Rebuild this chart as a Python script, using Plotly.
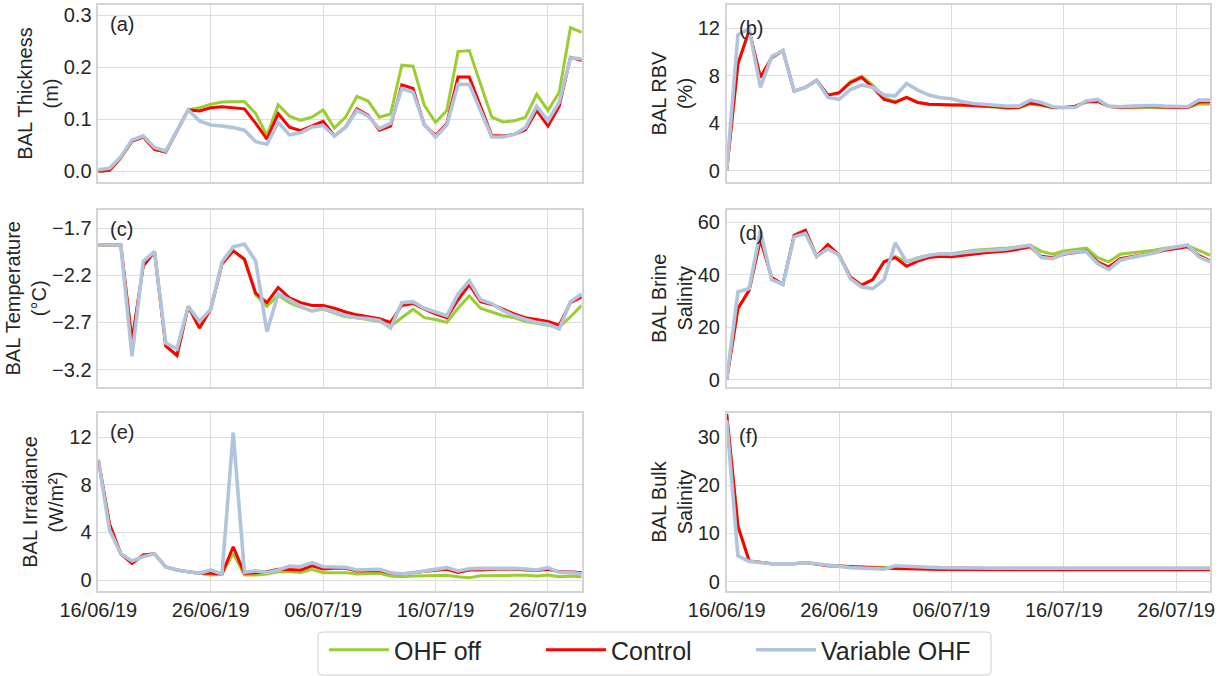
import pandas as pd
import plotly.graph_objects as go

# ---- time axis -------------------------------------------------------------
dates = pd.date_range("2019-06-16", periods=44, freq="D")
x_tick_dates = ["2019-06-16", "2019-06-26", "2019-07-06", "2019-07-16", "2019-07-26"]
x_tick_labels = ["16/06/19", "26/06/19", "06/07/19", "16/07/19", "26/07/19"]
x_range = ["2019-06-16", "2019-07-29"]

# ---- experiments -----------------------------------------------------------
series_names = ["OHF off", "Control", "Variable OHF"]
series_colors = ["#9acd32", "#ff0000", "#b0c4de"]
series_widths = [3, 3, 3.6]

# ---- (a) BAL thickness (m) -------------------------------------------------
thickness_ohf_off = [0.0, 0.002, 0.026, 0.058, 0.066, 0.042, 0.037, 0.079, 0.118, 0.122,
                     0.129, 0.133, 0.134, 0.134, 0.111, 0.069, 0.128, 0.106, 0.098, 0.104,
                     0.118, 0.083, 0.104, 0.144, 0.135, 0.104, 0.110, 0.204, 0.202, 0.127,
                     0.094, 0.117, 0.230, 0.232, 0.168, 0.104, 0.095, 0.097, 0.104, 0.148,
                     0.117, 0.152, 0.276, 0.267]
thickness_control = [0.0, 0.002, 0.026, 0.058, 0.066, 0.042, 0.037, 0.079, 0.118, 0.116,
                     0.122, 0.124, 0.122, 0.120, 0.092, 0.062, 0.111, 0.085, 0.078, 0.087,
                     0.096, 0.068, 0.085, 0.120, 0.108, 0.079, 0.087, 0.166, 0.159, 0.089,
                     0.069, 0.092, 0.181, 0.181, 0.126, 0.069, 0.068, 0.071, 0.080, 0.117,
                     0.087, 0.125, 0.219, 0.213]
thickness_variable = [0.003, 0.006, 0.028, 0.060, 0.068, 0.046, 0.039, 0.080, 0.118, 0.097,
                      0.089, 0.087, 0.084, 0.079, 0.057, 0.052, 0.094, 0.070, 0.074, 0.085,
                      0.088, 0.068, 0.084, 0.117, 0.106, 0.082, 0.092, 0.159, 0.152, 0.090,
                      0.066, 0.089, 0.167, 0.167, 0.117, 0.066, 0.066, 0.071, 0.084, 0.125,
                      0.097, 0.133, 0.218, 0.216]

# ---- (b) BAL relative brine volume (%) --------------------------------------
rbv_ohf_off = [0.0, 9.0, 11.8, 7.85, 9.5, 10.1, 6.7, 7.0, 7.6, 6.36,
               6.6, 7.5, 7.95, 7.2, 6.13, 5.8, 6.16, 5.74, 5.6, 5.55,
               5.52, 5.5, 5.47, 5.42, 5.36, 5.28, 5.3, 5.6, 5.5, 5.3,
               5.3, 5.4, 5.77, 5.9, 5.4, 5.3, 5.36, 5.36, 5.36, 5.3,
               5.3, 5.3, 5.6, 5.62]
rbv_control = [0.0, 9.0, 11.8, 7.85, 9.5, 10.1, 6.7, 7.0, 7.6, 6.36,
               6.55, 7.4, 7.85, 7.0, 6.0, 5.74, 6.16, 5.74, 5.6, 5.55,
               5.52, 5.52, 5.49, 5.43, 5.38, 5.3, 5.32, 5.7, 5.55, 5.32,
               5.32, 5.43, 5.8, 5.83, 5.43, 5.32, 5.38, 5.38, 5.38, 5.32,
               5.32, 5.32, 5.77, 5.8]
rbv_variable = [0.0, 11.45, 11.9, 7.0, 9.6, 10.1, 6.7, 7.0, 7.6, 6.16,
                6.0, 6.83, 7.2, 7.0, 6.36, 6.3, 7.34, 6.78, 6.36, 6.13,
                6.05, 5.8, 5.66, 5.57, 5.49, 5.43, 5.43, 5.94, 5.74, 5.38,
                5.32, 5.32, 5.86, 6.0, 5.43, 5.38, 5.43, 5.49, 5.49, 5.43,
                5.38, 5.38, 5.94, 5.94]

# ---- (c) BAL temperature (degC) ---------------------------------------------
temp_ohf_off = [-1.88, -1.88, -1.88, -2.90, -2.10, -1.95, -2.95, -3.05, -2.53, -2.76,
                -2.56, -2.08, -1.94, -2.03, -2.41, -2.53, -2.41, -2.49, -2.54, -2.575,
                -2.56, -2.60, -2.64, -2.65, -2.67, -2.69, -2.74, -2.65, -2.56, -2.65,
                -2.67, -2.70, -2.55, -2.42, -2.55, -2.59, -2.63, -2.65, -2.69, -2.71,
                -2.73, -2.75, -2.64, -2.52]
temp_control = [-1.88, -1.88, -1.88, -2.90, -2.10, -1.95, -2.95, -3.05, -2.53, -2.76,
                -2.56, -2.08, -1.94, -2.03, -2.39, -2.49, -2.33, -2.44, -2.49, -2.52,
                -2.52, -2.55, -2.59, -2.62, -2.64, -2.66, -2.70, -2.52, -2.50, -2.56,
                -2.61, -2.65, -2.46, -2.30, -2.48, -2.51, -2.56, -2.61, -2.65, -2.67,
                -2.69, -2.73, -2.49, -2.43]
temp_variable = [-1.88, -1.88, -1.88, -3.06, -2.05, -1.95, -2.92, -2.98, -2.53, -2.69,
                 -2.56, -2.06, -1.90, -1.87, -2.05, -2.80, -2.40, -2.46, -2.53, -2.58,
                 -2.55, -2.59, -2.63, -2.65, -2.66, -2.68, -2.76, -2.49, -2.48, -2.55,
                 -2.59, -2.63, -2.40, -2.26, -2.46, -2.50, -2.575, -2.63, -2.67, -2.70,
                 -2.72, -2.77, -2.48, -2.40]

# ---- (d) BAL brine salinity -------------------------------------------------
brine_ohf_off = [0.0, 27.1, 34.1, 53.4, 38.9, 36.3, 55.0, 56.9, 47.0, 51.5,
                 47.4, 39.1, 36.0, 38.1, 44.9, 47.0, 44.9, 46.5, 47.4, 48.0,
                 48.0, 48.7, 49.3, 49.6, 49.8, 50.2, 50.6, 51.3, 48.9, 47.8,
                 49.0, 49.6, 50.1, 46.5, 44.9, 47.8, 48.3, 48.7, 49.3, 50.1,
                 50.6, 51.1, 49.3, 47.4]
brine_control = [0.0, 27.1, 34.1, 53.4, 38.9, 36.3, 55.0, 56.9, 47.0, 51.5,
                 47.4, 39.1, 36.0, 38.1, 44.9, 46.5, 43.2, 45.2, 46.5, 47.0,
                 46.8, 47.4, 48.0, 48.4, 48.7, 49.0, 49.8, 50.6, 47.0, 46.5,
                 47.8, 48.4, 49.0, 44.9, 42.9, 46.1, 46.8, 47.4, 48.3, 49.3,
                 49.9, 50.6, 47.4, 45.2]
brine_variable = [0.0, 33.4, 34.7, 56.7, 38.1, 36.3, 54.4, 55.7, 47.0, 49.9,
                  47.4, 38.5, 35.3, 34.7, 38.1, 52.1, 44.9, 46.1, 47.4, 48.0,
                  47.8, 48.4, 48.9, 49.2, 49.4, 49.8, 50.6, 51.2, 46.5, 46.1,
                  48.0, 48.7, 48.7, 44.2, 41.9, 45.5, 46.5, 47.4, 48.3, 49.8,
                  50.6, 51.3, 46.8, 44.9]

# ---- (e) BAL irradiance (W/m2) ----------------------------------------------
irr_ohf_off = [10.1, 4.7, 2.2, 1.4, 2.1, 2.2, 1.1, 0.84, 0.7, 0.56,
               0.42, 0.5, 2.24, 0.42, 0.42, 0.5, 0.7, 0.7, 0.64, 0.9,
               0.62, 0.62, 0.62, 0.5, 0.5, 0.56, 0.34, 0.28, 0.34, 0.36,
               0.36, 0.39, 0.28, 0.2, 0.36, 0.39, 0.39, 0.39, 0.39, 0.34,
               0.42, 0.28, 0.34, 0.28]
irr_control = [10.1, 4.7, 2.2, 1.4, 2.1, 2.2, 1.1, 0.84, 0.7, 0.56,
               0.56, 0.5, 2.8, 0.56, 0.62, 0.7, 0.9, 0.84, 0.84, 1.2,
               0.93, 0.98, 0.98, 0.76, 0.76, 0.79, 0.56, 0.5, 0.62, 0.7,
               0.79, 0.9, 0.64, 0.84, 0.84, 0.9, 0.93, 0.9, 0.84, 0.79,
               0.9, 0.7, 0.7, 0.62]
irr_variable = [10.1, 4.2, 2.2, 1.6, 1.96, 2.2, 1.1, 0.84, 0.7, 0.56,
                0.84, 0.5, 12.4, 0.64, 0.78, 0.62, 0.84, 1.18, 1.12, 1.46,
                1.12, 1.12, 1.07, 0.84, 0.84, 0.9, 0.62, 0.5, 0.62, 0.78,
                0.9, 1.04, 0.76, 0.95, 0.98, 0.98, 1.04, 0.98, 0.93, 0.84,
                1.04, 0.64, 0.64, 0.5]

# ---- (f) BAL bulk salinity --------------------------------------------------
bulk_ohf_off = [34.8, 11.5, 4.3, 3.96, 3.7, 3.7, 3.7, 3.96, 3.7, 3.3,
                3.26, 3.15, 3.05, 2.95, 2.9, 2.85, 2.85, 2.8, 2.8, 2.8,
                2.75, 2.75, 2.75, 2.75, 2.75, 2.75, 2.8, 2.8, 2.75, 2.7,
                2.75, 2.8, 2.75, 2.7, 2.7, 2.7, 2.7, 2.75, 2.75, 2.75,
                2.75, 2.75, 2.75, 2.75]
bulk_control = [34.8, 11.5, 4.3, 3.96, 3.7, 3.7, 3.7, 3.96, 3.7, 3.3,
                3.26, 3.1, 3.0, 2.9, 2.8, 2.7, 2.65, 2.6, 2.55, 2.5,
                2.5, 2.5, 2.5, 2.5, 2.5, 2.5, 2.5, 2.5, 2.5, 2.45,
                2.5, 2.5, 2.5, 2.45, 2.45, 2.45, 2.45, 2.5, 2.5, 2.5,
                2.5, 2.5, 2.45, 2.45]
bulk_variable = [33.5, 5.35, 4.2, 3.96, 3.7, 3.7, 3.7, 3.96, 3.7, 3.3,
                 3.1, 2.9, 2.8, 2.65, 2.6, 3.3, 3.26, 3.1, 3.0, 2.9,
                 2.85, 2.8, 2.8, 2.8, 2.8, 2.8, 2.8, 2.85, 2.75, 2.7,
                 2.75, 2.8, 2.75, 2.7, 2.7, 2.75, 2.8, 2.8, 2.8, 2.8,
                 2.8, 2.8, 2.8, 2.8]

# ---- panel definitions (reading order a..f, two columns) --------------------
panels = [
    dict(tag="(a)", title="BAL Thickness<br>(m)",
         series=[thickness_ohf_off, thickness_control, thickness_variable],
         yrange=[-0.021, 0.32], yticks=[0.0, 0.1, 0.2, 0.3], fmt=".1f"),
    dict(tag="(b)", title="BAL RBV<br>(%)",
         series=[rbv_ohf_off, rbv_control, rbv_variable],
         yrange=[-0.97, 13.96], yticks=[0, 4, 8, 12], fmt="d"),
    dict(tag="(c)", title="BAL Temperature<br>(°C)",
         series=[temp_ohf_off, temp_control, temp_variable],
         yrange=[-3.385, -1.504], yticks=[-3.2, -2.7, -2.2, -1.7], fmt=".1f"),
    dict(tag="(d)", title="BAL Brine<br>Salinity",
         series=[brine_ohf_off, brine_control, brine_variable],
         yrange=[-2.8, 64.8], yticks=[0, 20, 40, 60], fmt="d"),
    dict(tag="(e)", title="BAL Irradiance<br>(W/m²)",
         series=[irr_ohf_off, irr_control, irr_variable],
         yrange=[-0.9, 14.02], yticks=[0, 4, 8, 12], fmt="d"),
    dict(tag="(f)", title="BAL Bulk<br>Salinity",
         series=[bulk_ohf_off, bulk_control, bulk_variable],
         yrange=[-1.88, 34.93], yticks=[0, 10, 20, 30], fmt="d"),
]

W, H = 1225, 676
col_px = [(98.3, 581.7), (726.7, 1210.0)]          # left/right edges of plot areas
row_px = [(4.7, 182.3), (209.6, 387.0), (413.3, 590.7)]  # top/bottom edges

FONT = "Liberation Sans, Arial, Helvetica, sans-serif"
TEXT = "#262626"
GRID = "#dedede"
SPINE = "#d4d4d4"

# legend layout: one legend per experiment, laid out in a single framed row
legend_ids = ["legend", "legend2", "legend3"]
legend_left_px = [324, 541, 751]
legend_top_px = 627
legend_frame_px = (318, 632, 991, 675)   # left, top, right, bottom

fig = go.Figure()
annotations = []

for i, p in enumerate(panels):
    row, col = divmod(i, 2)
    n = i + 1
    xname = "x" if n == 1 else f"x{n}"
    yname = "y" if n == 1 else f"y{n}"
    xkey = "xaxis" if n == 1 else f"xaxis{n}"
    ykey = "yaxis" if n == 1 else f"yaxis{n}"

    for k, (name, color, width, vals) in enumerate(
            zip(series_names, series_colors, series_widths, p["series"])):
        fig.add_trace(go.Scatter(
            x=dates, y=vals, mode="lines", name=name,
            line=dict(color=color, width=width),
            xaxis=xname, yaxis=yname,
            showlegend=(i == 0), legend=legend_ids[k],
        ))

    x0, x1 = col_px[col]
    top, bot = row_px[row]
    bottom_row = (row == 2)

    fig.update_layout({
        xkey: dict(
            domain=[x0 / W, x1 / W], anchor=yname, type="date",
            range=x_range, tickmode="array", tickvals=x_tick_dates,
            ticktext=x_tick_labels, showticklabels=bottom_row,
            ticks="outside", ticklen=1, tickcolor="rgba(0,0,0,0)",
            tickfont=dict(family=FONT, size=20, color=TEXT),
            showgrid=True, gridcolor=GRID, gridwidth=1.2,
            showline=True, mirror=True, linecolor=SPINE, linewidth=1.5,
            zeroline=False, automargin=False,
        ),
        ykey: dict(
            domain=[1 - bot / H, 1 - top / H], anchor=xname,
            range=p["yrange"], tickmode="array", tickvals=p["yticks"],
            tickformat=p["fmt"],
            ticks="outside", ticklen=1, tickcolor="rgba(0,0,0,0)",
            tickfont=dict(family=FONT, size=20, color=TEXT),
            title=dict(text=p["title"], font=dict(family=FONT, size=20, color=TEXT),
                       standoff=0),
            showgrid=True, gridcolor=GRID, gridwidth=1.2,
            showline=True, mirror=True, linecolor=SPINE, linewidth=1.5,
            zeroline=False, automargin=False,
        ),
    })

    dy = 6 if col == 0 else 10
    annotations.append(dict(
        text=p["tag"], xref="paper", yref="paper",
        x=(x0 + 10) / W, y=1 - (top + dy) / H,
        xanchor="left", yanchor="top", showarrow=False,
        font=dict(family=FONT, size=20, color=TEXT),
    ))

layout_legends = {}
for lid, left in zip(legend_ids, legend_left_px):
    layout_legends[lid] = dict(
        orientation="h", x=left / W, xanchor="left",
        y=1 - legend_top_px / H, yanchor="top",
        font=dict(family=FONT, size=25, color=TEXT),
        borderwidth=0, bgcolor="rgba(0,0,0,0)", itemwidth=60,
    )

# rounded frame around the legend row
fl, ft, fr, fb = legend_frame_px
rx, ry = 4 / W, 4 / H
X0, X1 = fl / W, fr / W
Y0, Y1 = 1 - fb / H, 1 - ft / H
frame_path = (f"M {X0 + rx},{Y0} L {X1 - rx},{Y0} Q {X1},{Y0} {X1},{Y0 + ry} "
              f"L {X1},{Y1 - ry} Q {X1},{Y1} {X1 - rx},{Y1} "
              f"L {X0 + rx},{Y1} Q {X0},{Y1} {X0},{Y1 - ry} "
              f"L {X0},{Y0 + ry} Q {X0},{Y0} {X0 + rx},{Y0} Z")

fig.update_layout(
    width=W, height=H,
    margin=dict(l=0, r=0, t=0, b=0, autoexpand=False),
    paper_bgcolor="white", plot_bgcolor="white",
    font=dict(family=FONT, color=TEXT),
    annotations=annotations,
    shapes=[dict(type="path", path=frame_path, xref="paper", yref="paper",
                 line=dict(color="#d0d0d0", width=1), fillcolor="white",
                 layer="below")],
    **layout_legends,
)

fig.write_html("out.html")
